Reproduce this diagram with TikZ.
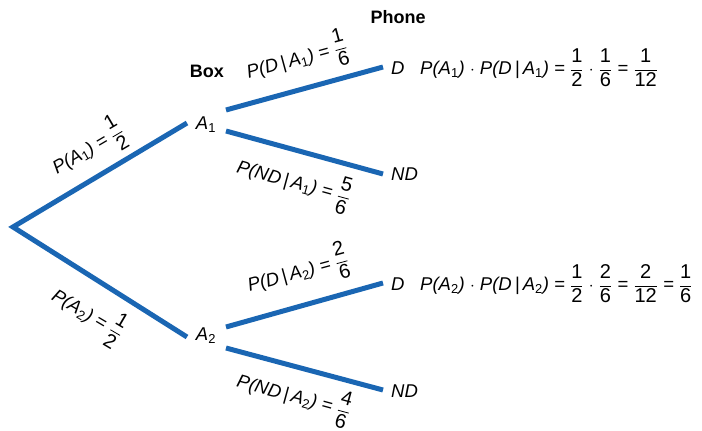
\documentclass[tikz,border=0pt]{standalone}
\usepackage{amsmath}
\usepackage{fontspec}
\setmainfont{Liberation Sans}
\definecolor{branch}{RGB}{26,102,179}
\newcommand{\fr}[2]{\ensuremath{\genfrac{}{}{0.8pt}{0}{\hbox{\upshape\fontsize{20}{22}\selectfont #1}}{\hbox{\upshape\fontsize{20}{22}\selectfont #2}}}}
\newcommand{\sub}[1]{\textsubscript{\upshape #1}}
\newcommand{\given}{\,|\,}
\begin{document}
\begin{tikzpicture}[x=1pt,y=-1pt,
  br/.style={draw=branch,line width=5pt},
  lab/.style={inner sep=0pt,font=\fontsize{18.5}{22}\selectfont\itshape},
  ttl/.style={inner sep=0pt,font=\fontsize{18}{22}\selectfont\bfseries}]
\useasboundingbox (0,0) rectangle (702,431);
% branch end points
\coordinate (r) at (13,227);
\coordinate (a1w) at (187,123);
\coordinate (a2w) at (187,337);
\coordinate (a1u) at (226,110);
\coordinate (a1d) at (226,131);
\coordinate (a2u) at (226,327);
\coordinate (a2d) at (226,348);
\coordinate (d1) at (383,67);
\coordinate (nd1) at (383,174);
\coordinate (d2) at (383,283);
\coordinate (nd2) at (383,390);
% branches
\draw[br] (a1w) -- (r) -- (a2w);
\draw[br] (a1u) -- (d1);
\draw[br] (a1d) -- (nd1);
\draw[br] (a2u) -- (d2);
\draw[br] (a2d) -- (nd2);
% outcome labels
\node[lab] (A1) at (206,125) {A\sub{1}};
\node[lab] (A2) at (206,336) {A\sub{2}};
\node[lab,anchor=west] (D1) at (391,68) {D};
\node[lab,anchor=west] (ND1) at (391,174) {ND};
\node[lab,anchor=west] (D2) at (391,284) {D};
\node[lab,anchor=west] (ND2) at (391,391) {ND};
\node[ttl] (box) at (207,71) {Box};
\node[ttl] (phone) at (398,17) {Phone};
% branch probabilities
\node[lab,rotate=30.5] (p1) at (88,149) {P(A\sub{1}) = \fr{1}{2}};
\node[lab,rotate=-30.5] (p2) at (88,314) {P(A\sub{2}) = \fr{1}{2}};
\node[lab,rotate=15.3] (p3) at (297,59) {P(D\given A\sub{1}) = \fr{1}{6}};
\node[lab,rotate=-15.3] (p4) at (294,182) {P(ND\given A\sub{1}) = \fr{5}{6}};
\node[lab,rotate=15.3] (p5) at (298,272) {P(D\given A\sub{2}) = \fr{2}{6}};
\node[lab,rotate=-15.3] (p6) at (294,396) {P(ND\given A\sub{2}) = \fr{4}{6}};
% products
\node[lab,anchor=west] (f1) at (420,68) {P(A\sub{1}) $\cdot$ P(D\given A\sub{1}) = \fr{1}{2} $\cdot$ \fr{1}{6} = \fr{1}{12}};
\node[lab,anchor=west] (f2) at (420,284) {P(A\sub{2}) $\cdot$ P(D\given A\sub{2}) = \fr{1}{2} $\cdot$ \fr{2}{6} = \fr{2}{12} = \fr{1}{6}};
\end{tikzpicture}
\end{document}
